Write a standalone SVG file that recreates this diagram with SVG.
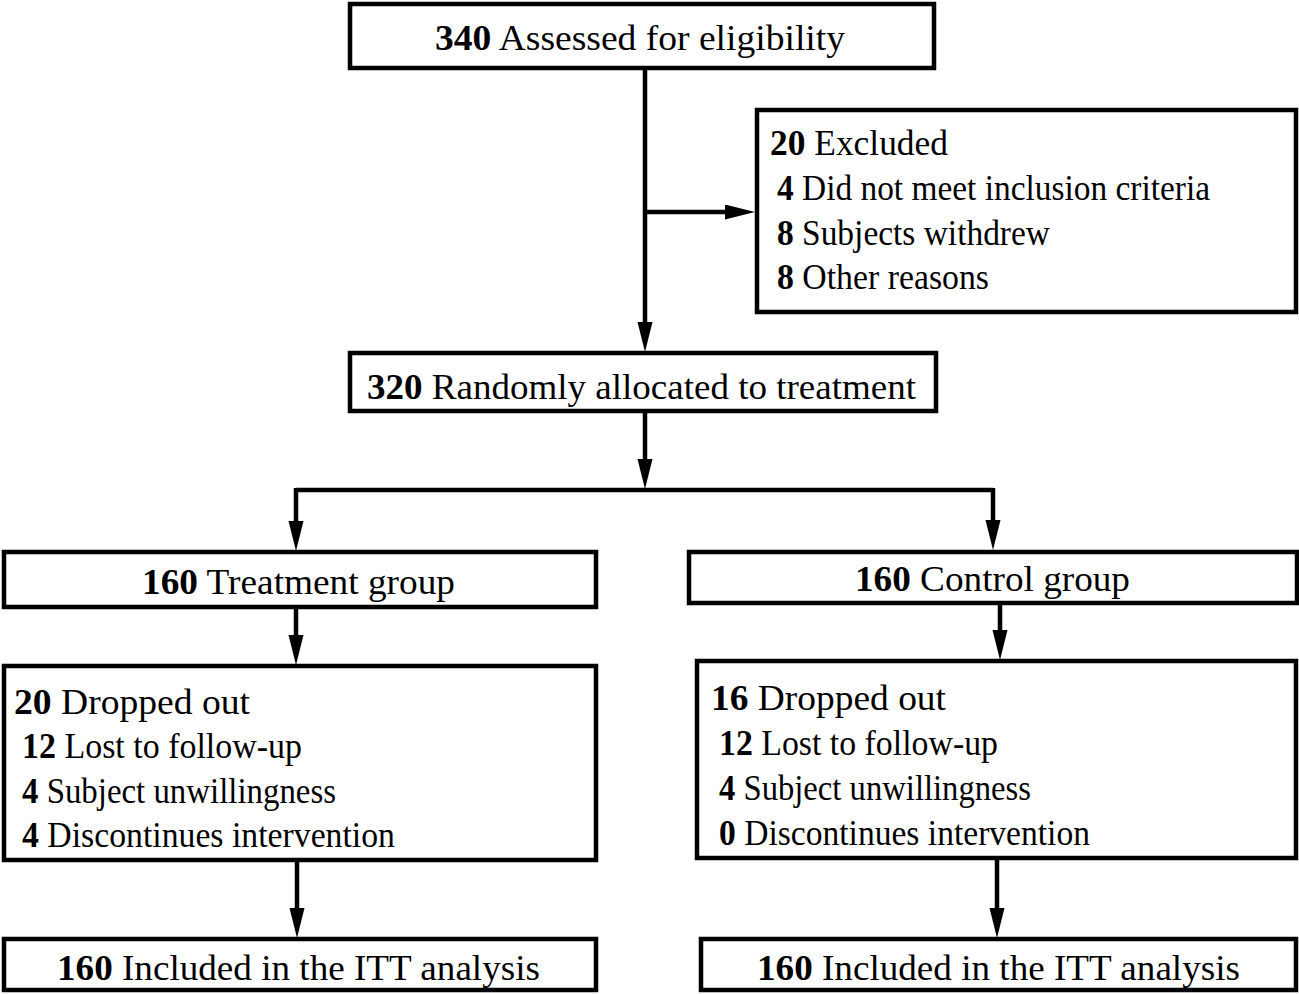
<svg xmlns="http://www.w3.org/2000/svg" width="1299" height="994" viewBox="0 0 1299 994">
<defs>
<marker id="arr" markerUnits="userSpaceOnUse" markerWidth="32" markerHeight="16" refX="15" refY="7.5" orient="auto">
<path d="M0,0 L30,7.5 L0,15 z" fill="#000"/>
</marker>
<style>
.box{fill:#fff;stroke:#000;stroke-width:4.5}
.t{font-family:"Liberation Serif","Times New Roman",serif;font-size:35px;fill:#000}
.b{font-weight:bold}
.c{fill:none;stroke:#000;stroke-width:4.5}
</style>
</defs>
<rect width="1299" height="994" fill="#fff"/>
<g id="connectors">
<path class="c" d="M645,68 V337" marker-end="url(#arr)"/>
<path class="c" d="M645,212 H740" marker-end="url(#arr)"/>
<path class="c" d="M645,411 V474" marker-end="url(#arr)"/>
<path class="c" d="M296,490 H993"/>
<path class="c" d="M296,488 V536" marker-end="url(#arr)"/>
<path class="c" d="M993,488 V535" marker-end="url(#arr)"/>
<path class="c" d="M296,607 V650" marker-end="url(#arr)"/>
<path class="c" d="M1000,603 V645" marker-end="url(#arr)"/>
<path class="c" d="M297,860 V923" marker-end="url(#arr)"/>
<path class="c" d="M997,858 V923" marker-end="url(#arr)"/>
</g>
<g id="assessed">
<rect class="box" x="350" y="4" width="584" height="64"/>
<text class="t" x="435" y="50" textLength="410" lengthAdjust="spacingAndGlyphs"><tspan class="b">340</tspan> Assessed for eligibility</text>
</g>
<g id="excluded">
<rect class="box" x="757" y="110" width="539" height="202"/>
<text class="t" x="770" y="155" textLength="178" lengthAdjust="spacingAndGlyphs"><tspan class="b">20</tspan> Excluded</text>
<text class="t" x="777" y="200" textLength="433" lengthAdjust="spacingAndGlyphs"><tspan class="b">4</tspan> Did not meet inclusion criteria</text>
<text class="t" x="777" y="245" textLength="273" lengthAdjust="spacingAndGlyphs"><tspan class="b">8</tspan> Subjects withdrew</text>
<text class="t" x="777" y="289" textLength="212" lengthAdjust="spacingAndGlyphs"><tspan class="b">8</tspan> Other reasons</text>
</g>
<g id="randomized">
<rect class="box" x="350" y="353" width="586" height="58"/>
<text class="t" x="367" y="399" textLength="549" lengthAdjust="spacingAndGlyphs"><tspan class="b">320</tspan> Randomly allocated to treatment</text>
</g>
<g id="treatment">
<rect class="box" x="4" y="552" width="592" height="55"/>
<text class="t" x="142" y="594" textLength="313" lengthAdjust="spacingAndGlyphs"><tspan class="b">160</tspan> Treatment group</text>
</g>
<g id="control">
<rect class="box" x="689" y="552" width="608" height="51"/>
<text class="t" x="855" y="591" textLength="275" lengthAdjust="spacingAndGlyphs"><tspan class="b">160</tspan> Control group</text>
</g>
<g id="dropout-treatment">
<rect class="box" x="4" y="666" width="592" height="194"/>
<text class="t" x="14" y="714" textLength="236" lengthAdjust="spacingAndGlyphs"><tspan class="b">20</tspan> Dropped out</text>
<text class="t" x="22" y="758" textLength="280" lengthAdjust="spacingAndGlyphs"><tspan class="b">12</tspan> Lost to follow-up</text>
<text class="t" x="22" y="803" textLength="314" lengthAdjust="spacingAndGlyphs"><tspan class="b">4</tspan> Subject unwillingness</text>
<text class="t" x="22" y="847" textLength="373" lengthAdjust="spacingAndGlyphs"><tspan class="b">4</tspan> Discontinues intervention</text>
</g>
<g id="dropout-control">
<rect class="box" x="697" y="661" width="599" height="197"/>
<text class="t" x="711" y="710" textLength="235" lengthAdjust="spacingAndGlyphs"><tspan class="b">16</tspan> Dropped out</text>
<text class="t" x="719" y="755" textLength="279" lengthAdjust="spacingAndGlyphs"><tspan class="b">12</tspan> Lost to follow-up</text>
<text class="t" x="719" y="800" textLength="312" lengthAdjust="spacingAndGlyphs"><tspan class="b">4</tspan> Subject unwillingness</text>
<text class="t" x="719" y="845" textLength="371" lengthAdjust="spacingAndGlyphs"><tspan class="b">0</tspan> Discontinues intervention</text>
</g>
<g id="itt-treatment">
<rect class="box" x="4" y="939" width="592" height="51"/>
<text class="t" x="57" y="980" textLength="483" lengthAdjust="spacingAndGlyphs"><tspan class="b">160</tspan> Included in the ITT analysis</text>
</g>
<g id="itt-control">
<rect class="box" x="701" y="939" width="595" height="51"/>
<text class="t" x="757" y="980" textLength="483" lengthAdjust="spacingAndGlyphs"><tspan class="b">160</tspan> Included in the ITT analysis</text>
</g>
</svg>
